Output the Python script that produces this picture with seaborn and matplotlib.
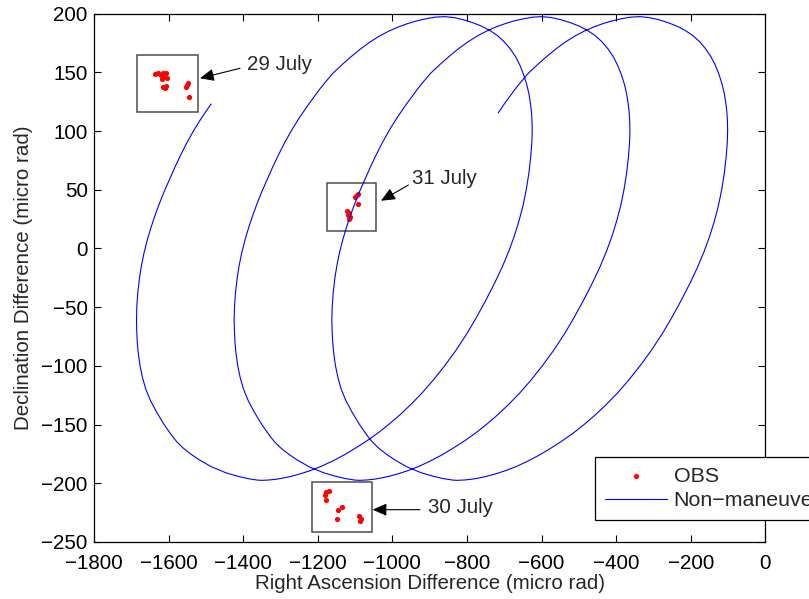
import matplotlib
matplotlib.use("Agg")
import matplotlib.pyplot as plt
import pandas as pd
import seaborn as sns
from matplotlib.patches import Rectangle

# Predicted (non-maneuver) track in right ascension / declination difference
# (micro rad), listed revolution by revolution in the order it is flown.
rev0_ra = [-1486, -1510, -1531.6, -1550.9, -1566.9, -1581.9, -1598.7, -1612.5, -1625,
           -1636.5, -1647, -1656.5, -1665.3, -1672.5, -1678, -1682.4, -1685.2, -1686]
rev0_dec = [123, 112, 101, 90, 80, 70, 58, 48, 38,
            28, 18, 8, -3, -14, -25, -37, -49, -61]

rev1_ra = [
    -1685.5, -1684, -1681, -1676.5, -1670, -1661, -1648, -1631, -1612, -1590,
    -1577, -1561, -1541, -1518, -1485, -1447, -1415, -1388, -1362,
    -1350, -1330, -1310, -1290, -1270, -1245, -1220, -1190, -1160, -1130,
    -1100, -1070, -1040, -1010, -980, -950, -920, -890, -860, -830,
    -800, -775, -750, -725, -705, -688, -673, -660, -650, -641,
    -634, -629, -626, -625,
    -625.5, -627, -630, -634, -640, -648, -658, -670, -684, -700,
    -718, -738, -760, -785, -810, -835, -860, -885, -910, -935,
    -960, -985, -1010, -1035, -1060, -1085, -1110, -1135, -1160, -1180, -1194,
    -1209, -1224, -1248, -1269.6, -1288.9, -1304.9, -1319.9, -1336.7, -1350.5,
    -1363, -1374.5, -1385, -1394.5, -1403.3, -1410.5, -1416, -1420.4, -1423.2,
    -1424.4]
rev1_dec = [
    -70, -80, -90, -100, -110, -120, -130, -140, -150, -160,
    -165, -170, -175, -180, -186, -191, -194, -196, -197.3,
    -197.5, -197.2, -196.5, -195.4, -194, -191.8, -189.2, -185.5, -181, -176,
    -170.3, -164.2, -157.5, -150, -141.8, -132.8, -123, -112, -100, -87,
    -72.5, -59, -44.5, -29, -15.5, -2.5, 10.5, 24, 36, 50,
    64, 78, 90, 100,
    108, 116, 124, 132, 140, 148, 156, 163.5, 170, 176,
    181.2, 185.5, 189.2, 192.3, 194.8, 196.6, 197.4, 197, 195.6, 193.8,
    191.4, 188.5, 185, 180.8, 175.8, 170, 163.5, 156.5, 149, 141.5, 136,
    129.5, 123, 112, 101, 90, 80, 70, 58, 48,
    38, 28, 18, 8, -3, -14, -25, -37, -49,
    -61]

rev2_ra = [
    -1423.5, -1422, -1419, -1414.5, -1408, -1399, -1386, -1369, -1350, -1328,
    -1315, -1299, -1279, -1256, -1223, -1185, -1153, -1126, -1100,
    -1088, -1068, -1048, -1028, -1008, -983, -958, -928, -898, -868,
    -838, -808, -778, -748, -718, -688, -658, -628, -598, -568,
    -538, -513, -488, -463, -443, -426, -411, -398, -388, -379,
    -372, -367, -364, -363,
    -363.5, -365, -368, -372, -378, -386, -396, -408, -422, -438,
    -456, -476, -498, -523, -548, -573, -598, -623, -648, -673,
    -698, -723, -748, -773, -798, -823, -848, -873, -898, -918, -932,
    -947, -962, -986, -1007.6, -1026.9, -1042.9, -1057.9, -1074.7, -1088.5,
    -1101, -1112.5, -1123, -1132.5, -1141.3, -1148.5, -1154, -1158.4, -1161.2,
    -1162.4]
rev2_dec = list(rev1_dec)

rev3_ra = [
    -1161.5, -1160, -1157, -1152.5, -1146, -1137, -1124, -1107, -1088, -1066,
    -1053, -1037, -1017, -994, -961, -923, -891, -864, -838,
    -826, -806, -786, -766, -746, -721, -696, -666, -636, -606,
    -576, -546, -516, -486, -456, -426, -396, -366, -336, -306,
    -276, -251, -226, -201, -181, -164, -149, -136, -126, -117,
    -110, -105, -102, -101,
    -101.5, -103, -106, -110, -116, -124, -134, -146, -160, -176,
    -194, -214, -236, -261, -286, -311, -336, -361, -386, -411,
    -436, -461, -486, -511, -536, -561, -586, -611, -636, -656, -670,
    -685, -700, -716]
rev3_dec = [
    -70, -80, -90, -100, -110, -120, -130, -140, -150, -160,
    -165, -170, -175, -180, -186, -191, -194, -196, -197.3,
    -197.5, -197.2, -196.5, -195.4, -194, -191.8, -189.2, -185.5, -181, -176,
    -170.3, -164.2, -157.5, -150, -141.8, -132.8, -123, -112, -100, -87,
    -72.5, -59, -44.5, -29, -15.5, -2.5, 10.5, 24, 36, 50,
    64, 78, 90, 100,
    108, 116, 124, 132, 140, 148, 156, 163.5, 170, 176,
    181.2, 185.5, 189.2, 192.3, 194.8, 196.6, 197.4, 197, 195.6, 193.8,
    191.4, 188.5, 185, 180.8, 175.8, 170, 163.5, 156.5, 149, 141.5, 136,
    129.5, 123, 115.5]

# Observations on the three nights
obs_ra = [
    -1636, -1627.5, -1621, -1616, -1614, -1607, -1605, -1618.5, -1614, -1610,
    -1607, -1551.5, -1547, -1553, -1544.4,
    -1178, -1169, -1180, -1177, -1145, -1136, -1148, -1088.6, -1084, -1087,
    -1100, -1095.6, -1091, -1091, -1121, -1116, -1114, -1115.5, -1118,
]
obs_dec = [
    148.6, 149.2, 147.7, 149.7, 146.3, 149.2, 144.9, 144.0, 137.2, 136.4,
    138.3, 139.2, 140.6, 137.7, 128.7,
    -207.4, -206.9, -210.3, -213.9, -223.0, -220.2, -230.1, -228.2, -230.1, -232.2,
    43.5, 45.4, 46.3, 37.8, 32.0, 30.3, 26.9, 24.7, 28.4,
]

# Night labels with the extent of each group of observations
night_labels = ["29 July", "31 July", "30 July"]
box_ra = [(-1685.5, -1520), (-1174.4, -1044), (-1216, -1055.4)]
box_dec = [(115.9, 164.7), (14.7, 55.4), (-241.5, -198.9)]

x_ticks = list(range(-1800, 1, 200))
y_ticks = list(range(-250, 201, 50))

sns.set_style("white")
plt.rcParams["font.family"] = ["Liberation Sans", "DejaVu Sans"]
plt.rcParams["axes.unicode_minus"] = True
FS = 14.8

fig = plt.figure(figsize=(8.09, 5.99), dpi=100)
ax = fig.add_axes([0.1162, 0.0952, 0.946 - 0.1162, 0.9773 - 0.0952])

obs = pd.DataFrame({"ra": obs_ra, "dec": obs_dec})
track = pd.DataFrame({
    "ra": rev0_ra + rev1_ra + rev2_ra + rev3_ra,
    "dec": rev0_dec + rev1_dec + rev2_dec + rev3_dec,
})

sns.scatterplot(data=obs, x="ra", y="dec", ax=ax, color="red", s=14,
                linewidth=0, label="OBS", zorder=2)
sns.lineplot(data=track, x="ra", y="dec", ax=ax, sort=False, estimator=None,
             color="blue", linewidth=0.8, label="Non\u2212maneuver", zorder=3)

# Boxes, arrows and night labels
arrow_tail = [(-1408.5, 153.4), (-957, 54.0), (-926, -222.5)]
arrow_tip = [(-1516, 144.9), (-1030.5, 40.6), (-1053, -222.5)]
label_pos = [(-1390.6, 152.0), (-948, 54.8), (-905, -225.3)]
for name, (x0, x1), (y0, y1), tail, tip, lp in zip(
        night_labels, box_ra, box_dec, arrow_tail, arrow_tip, label_pos):
    ax.add_patch(Rectangle((x0, y0), x1 - x0, y1 - y0, fill=False,
                           edgecolor="0.3", linewidth=1.1, zorder=1))
    ax.annotate("", xy=tip, xytext=tail,
                arrowprops=dict(arrowstyle="-|>,head_length=0.5,head_width=0.22",
                                color="black", lw=0.8, mutation_scale=17,
                                shrinkA=0, shrinkB=0))
    ax.text(lp[0], lp[1], name, ha="left", va="baseline", fontsize=FS)

ax.set_xlim(-1800, 0)
ax.set_ylim(-250, 200)
ax.set_xticks(x_ticks)
ax.set_yticks(y_ticks)
ax.tick_params(direction="in", length=4.7, width=0.8, bottom=True, left=True,
               top=True, right=True, labelsize=FS, colors="black")
ax.tick_params(axis="x", pad=8.5)
ax.tick_params(axis="y", pad=4.5)
for sp in ax.spines.values():
    sp.set_visible(True)
    sp.set_color("black")
    sp.set_linewidth(0.9)

ax.set_xlabel("Right Ascension Difference (micro rad)", fontsize=FS, labelpad=1)
ax.set_ylabel("Declination Difference (micro rad)", fontsize=FS, labelpad=6)

handles, labels = ax.get_legend_handles_labels()
leg = ax.legend(handles, labels, loc="upper left",
                bbox_to_anchor=(595 / 809, 1 - 457.3 / 599),
                bbox_transform=fig.transFigure, frameon=True, fancybox=False,
                edgecolor="black", framealpha=1, fontsize=15.4,
                handlelength=2.9, handletextpad=0.33, borderpad=0.45,
                labelspacing=0.25, borderaxespad=0, scatterpoints=1)
leg.get_frame().set_linewidth(0.9)

fig.savefig("out.png", dpi=100)
